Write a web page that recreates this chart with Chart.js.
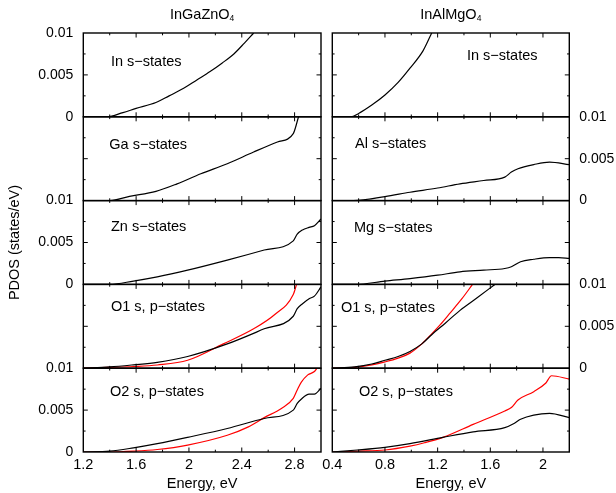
<!DOCTYPE html>
<html>
<head>
<meta charset="utf-8">
<script src="https://cdn.jsdelivr.net/npm/chart.js@4.4.1/dist/chart.umd.min.js"></script>
<style>
  html, body { margin: 0; padding: 0; background: #fff; }
  #wrap { position: relative; width: 616px; height: 493px; }
  #wrap canvas { position: absolute; left: 0; top: 0; }
</style>
</head>
<body>
<div id="wrap">
  <canvas id="left" width="616" height="493"></canvas>
  <canvas id="right" width="616" height="493"></canvas>
</div>
<script>
// ---- data (energy in eV, PDOS in states/eV) ----

// InGaZnO4 column
const igzoInE = [1.2, 1.38, 1.5, 1.6, 1.75, 1.85, 1.96, 2.06, 2.16, 2.25, 2.34, 2.42, 2.49];
const igzoIn  = [0, 0, 0.0005, 0.001, 0.0017, 0.0025, 0.0034, 0.0044, 0.0054, 0.0064, 0.0075, 0.0088, 0.01];

const igzoGaE = [1.2, 1.4, 1.55, 1.75, 1.91, 2.09, 2.29, 2.49, 2.67, 2.79, 2.83];
const igzoGa  = [0, 0, 0.0005, 0.0011, 0.002, 0.0032, 0.0044, 0.0058, 0.007, 0.008, 0.01];

const igzoZnE = [1.2, 1.4, 1.58, 1.76, 1.99, 2.29, 2.57, 2.79, 2.82, 2.86, 2.91, 2.95, 3.0];
const igzoZn  = [0, 0, 0.0004, 0.0009, 0.0017, 0.0029, 0.0041, 0.0052, 0.006, 0.0065, 0.0068, 0.007, 0.0078];

const igzoO1E    = [1.2, 1.4, 1.58, 1.76, 1.99, 2.29, 2.57, 2.79, 2.82, 2.86, 2.91, 2.95, 3.0];
const igzoO1     = [0, 0.00015, 0.0004, 0.0007, 0.0014, 0.0029, 0.0047, 0.0062, 0.0071, 0.0077, 0.0083, 0.0086, 0.0097];
const igzoO1RedE = [1.2, 1.4, 1.58, 1.76, 1.99, 2.26, 2.49, 2.65, 2.79, 2.815];
const igzoO1Red  = [0, 0.0001, 0.0002, 0.00038, 0.00095, 0.0029, 0.0047, 0.0064, 0.0088, 0.01];

const igzoO2E    = [1.2, 1.4, 1.58, 1.76, 1.99, 2.29, 2.57, 2.79, 2.82, 2.85, 2.91, 2.95, 3.0];
const igzoO2     = [0, 0.0001, 0.0005, 0.001, 0.00175, 0.0028, 0.004, 0.005, 0.0058, 0.0063, 0.0069, 0.0069, 0.0076];
const igzoO2RedE = [1.2, 1.4, 1.58, 1.76, 1.99, 2.29, 2.45, 2.57, 2.7, 2.79, 2.82, 2.85, 2.9, 2.95, 2.97];
const igzoO2Red  = [0, 0, 0.0001, 0.0003, 0.00083, 0.002, 0.003, 0.0041, 0.0052, 0.0064, 0.0074, 0.0083, 0.0092, 0.0096, 0.01];

// InAlMgO4 column
const iamoInE = [0.4, 0.54, 0.6, 0.7, 0.8, 0.9, 0.99, 1.09, 1.155];
const iamoIn  = [0, 0, 0.0004, 0.0014, 0.0026, 0.0041, 0.0058, 0.0079, 0.01];

const iamoAlE = [0.4, 0.56, 0.8, 0.99, 1.2, 1.37, 1.55, 1.71, 1.76, 1.81, 1.93, 2.05, 2.2];
const iamoAl  = [0, 0, 0.00048, 0.001, 0.0015, 0.002, 0.0024, 0.0028, 0.0034, 0.0038, 0.0043, 0.0046, 0.0043];

const iamoMgE = [0.4, 0.58, 0.8, 0.99, 1.2, 1.37, 1.55, 1.71, 1.76, 1.83, 1.93, 2.05, 2.12, 2.2];
const iamoMg  = [0, 0, 0.0004, 0.0007, 0.0011, 0.0015, 0.0017, 0.0019, 0.0021, 0.0027, 0.003, 0.0032, 0.0032, 0.0031];

const iamoO1E    = [0.4, 0.57, 0.7, 0.8, 0.9, 0.99, 1.08, 1.155, 1.26, 1.37, 1.5, 1.635];
const iamoO1     = [0, 0.00016, 0.0005, 0.00095, 0.0014, 0.002, 0.0029, 0.004, 0.0054, 0.0069, 0.0084, 0.01];
const iamoO1RedE = [0.4, 0.57, 0.7, 0.8, 0.9, 0.99, 1.08, 1.155, 1.22, 1.29, 1.38, 1.465];
const iamoO1Red  = [0, 0.0001, 0.0004, 0.00075, 0.0012, 0.0018, 0.0029, 0.0041, 0.0052, 0.0065, 0.0082, 0.01];

const iamoO2E    = [0.4, 0.59, 0.8, 0.99, 1.24, 1.47, 1.71, 1.78, 1.83, 1.93, 2.05, 2.2];
const iamoO2     = [0, 0.00024, 0.00056, 0.001, 0.00175, 0.0024, 0.0029, 0.0034, 0.0039, 0.0044, 0.0046, 0.0041];
const iamoO2RedE = [0.4, 0.6, 0.8, 0.99, 1.1, 1.24, 1.47, 1.71, 1.76, 1.81, 1.93, 2.02, 2.065, 2.2];
const iamoO2Red  = [0, 0.0001, 0.00024, 0.0007, 0.0011, 0.00175, 0.0033, 0.0049, 0.0053, 0.0062, 0.0072, 0.0082, 0.0091, 0.0087];

// ticks and labels
const xTicksLeft  = [1.2, 1.6, 2.0, 2.4, 2.8];
const xTicksRight = [0.4, 0.8, 1.2, 1.6, 2.0];
const yTicks = [0, 0.005, 0.01];
const leftLabels  = ['In s\u2212states', 'Ga s\u2212states', 'Zn s\u2212states', 'O1 s, p\u2212states', 'O2 s, p\u2212states'];
const rightLabels = ['In s\u2212states', 'Al s\u2212states', 'Mg s\u2212states', 'O1 s, p\u2212states', 'O2 s, p\u2212states'];

const FONT_FAMILY = "'Liberation Sans', Arial, Helvetica, sans-serif";
const FONT = '14.5px ' + FONT_FAMILY;
Chart.defaults.font.family = FONT_FAMILY;
Chart.defaults.font.size = 14.5;
Chart.defaults.color = '#000';

const fmt = v => String(Math.round(v * 1000) / 1000);
const pts = (xs, ys) => xs.map((x, i) => ({x: x, y: ys[i]}));

// frames, inward ticks, per-panel clipping and texts
const panelDeco = {
  id: 'panelDeco',
  beforeDatasetDraw(chart, args) {
    const ys = chart.scales[args.meta.yAxisID];
    const a = chart.chartArea, ctx = chart.ctx;
    ctx.save();
    ctx.beginPath();
    ctx.rect(a.left, ys.top, a.right - a.left, ys.bottom - ys.top);
    ctx.clip();
  },
  afterDatasetDraw(chart) {
    chart.ctx.restore();
  },
  afterDraw(chart, args, o) {
    const ctx = chart.ctx, a = chart.chartArea, xs = chart.scales.x;
    ctx.save();
    ctx.strokeStyle = '#000';
    ctx.fillStyle = '#000';
    o.panelIds.forEach((id, i) => {
      const ys = chart.scales[id];
      ctx.lineWidth = 1.4;
      ctx.strokeRect(a.left, ys.top, a.right - a.left, ys.bottom - ys.top);
      ctx.lineWidth = 1;
      ctx.beginPath();
      for (let k = 1; ; k++) {
        const v = xs.min + k * 0.2;
        if (v >= xs.max - 1e-6) break;
        const px = xs.getPixelForValue(v);
        const len = k % 2 === 0 ? 4.5 : 2.3;
        ctx.moveTo(px, ys.top); ctx.lineTo(px, ys.top + len);
        ctx.moveTo(px, ys.bottom); ctx.lineTo(px, ys.bottom - len);
      }
      for (let k = 1; k < 4; k++) {
        const py = ys.getPixelForValue(k * 0.0025);
        const len = k === 2 ? 4.5 : 2.3;
        ctx.moveTo(a.left, py); ctx.lineTo(a.left + len, py);
        ctx.moveTo(a.right, py); ctx.lineTo(a.right - len, py);
      }
      ctx.stroke();
      ctx.font = FONT;
      ctx.textBaseline = 'middle';
      ctx.textAlign = 'left';
      const off = o.labelPos[i];
      ctx.fillText(o.labels[i], a.left + off[0], ys.top + off[1]);
    });

    // column title with subscript
    ctx.font = FONT;
    const mainW = ctx.measureText(o.title).width;
    ctx.font = '8.5px ' + FONT_FAMILY;
    const subW = ctx.measureText(o.sub).width;
    const x0 = (a.left + a.right) / 2 - (mainW + subW) / 2;
    ctx.textAlign = 'left';
    ctx.textBaseline = 'middle';
    ctx.font = FONT;
    ctx.fillText(o.title, x0, 15);
    ctx.font = '8.5px ' + FONT_FAMILY;
    ctx.fillText(o.sub, x0 + mainW, 19);

    if (o.yTitle) {
      ctx.font = FONT;
      ctx.translate(15, (a.top + a.bottom) / 2);
      ctx.rotate(-Math.PI / 2);
      ctx.textAlign = 'center';
      ctx.fillText(o.yTitle, 0, 0);
    }
    ctx.restore();
  }
};

function makeColumn(canvasId, c) {
  const scales = {
    x: {
      type: 'linear', position: 'bottom', min: c.xMin, max: c.xMax,
      grid: {display: false, drawTicks: false}, border: {display: false},
      afterBuildTicks: s => { s.ticks = c.xTicks.map(v => ({value: v})); },
      afterFit: s => { s.height = 41; },
      ticks: {padding: 4, autoSkip: false, maxRotation: 0, callback: v => fmt(v)},
      title: {display: true, text: 'Energy, eV', padding: {top: 0, bottom: 0}}
    }
  };
  const ids = [];
  const datasets = [];
  c.panels.forEach((p, i) => {
    const id = 'p' + i;
    ids.push(id);
    scales[id] = {
      type: 'linear', position: c.side, stack: 'col', stackWeight: 1,
      weight: c.side === 'left' ? 5 - i : i + 1,
      min: 0, max: 0.01,
      grid: {display: false, drawTicks: false}, border: {display: false},
      afterBuildTicks: s => { s.ticks = yTicks.map(v => ({value: v})); },
      afterFit: s => { s.width = c.yWidth; },
      ticks: {display: c.showY[i], padding: c.yPad, font: {size: 14}, callback: v => fmt(v)}
    };
    p.lines.forEach(l => {
      datasets.push({
        data: pts(l[0], l[1]), borderColor: l[2], borderWidth: 1.2,
        pointRadius: 0, fill: false, cubicInterpolationMode: 'monotone',
        xAxisID: 'x', yAxisID: id
      });
    });
  });
  return new Chart(document.getElementById(canvasId), {
    type: 'line',
    data: {datasets: datasets},
    options: {
      responsive: false, animation: false, events: [],
      layout: {padding: c.padding},
      scales: scales,
      plugins: {
        legend: {display: false}, tooltip: {enabled: false},
        panelDeco: {panelIds: ids, labels: c.labels, labelPos: c.labelPos, title: c.title, sub: '4', yTitle: c.yTitle}
      }
    },
    plugins: [panelDeco]
  });
}

makeColumn('left', {
  side: 'left', xMin: 1.2, xMax: 3.0, xTicks: xTicksLeft, yWidth: 77, yPad: 10,
  padding: {left: 6.3, right: 295, top: 33, bottom: 0},
  showY: [true, false, true, false, true],
  title: 'InGaZnO', yTitle: 'PDOS (states/eV)',
  labels: leftLabels,
  labelPos: [[27.7, 29], [26, 28], [27.7, 26], [27.7, 23], [26.7, 24]],
  panels: [
    {lines: [[igzoInE, igzoIn, '#000']]},
    {lines: [[igzoGaE, igzoGa, '#000']]},
    {lines: [[igzoZnE, igzoZn, '#000']]},
    {lines: [[igzoO1E, igzoO1, '#000'], [igzoO1RedE, igzoO1Red, '#ff0000']]},
    {lines: [[igzoO2E, igzoO2, '#000'], [igzoO2RedE, igzoO2Red, '#ff0000']]}
  ]
});

makeColumn('right', {
  side: 'right', xMin: 0.4, xMax: 2.2, xTicks: xTicksRight, yWidth: 46.7, yPad: 10,
  padding: {left: 332.3, right: 0, top: 33, bottom: 0},
  showY: [false, true, false, true, false],
  title: 'InAlMgO', yTitle: null,
  labels: rightLabels,
  labelPos: [[134.7, 23], [22.7, 27], [21.7, 27], [8.7, 24], [26.7, 24]],
  panels: [
    {lines: [[iamoInE, iamoIn, '#000']]},
    {lines: [[iamoAlE, iamoAl, '#000']]},
    {lines: [[iamoMgE, iamoMg, '#000']]},
    {lines: [[iamoO1E, iamoO1, '#000'], [iamoO1RedE, iamoO1Red, '#ff0000']]},
    {lines: [[iamoO2E, iamoO2, '#000'], [iamoO2RedE, iamoO2Red, '#ff0000']]}
  ]
});
</script>
</body>
</html>
